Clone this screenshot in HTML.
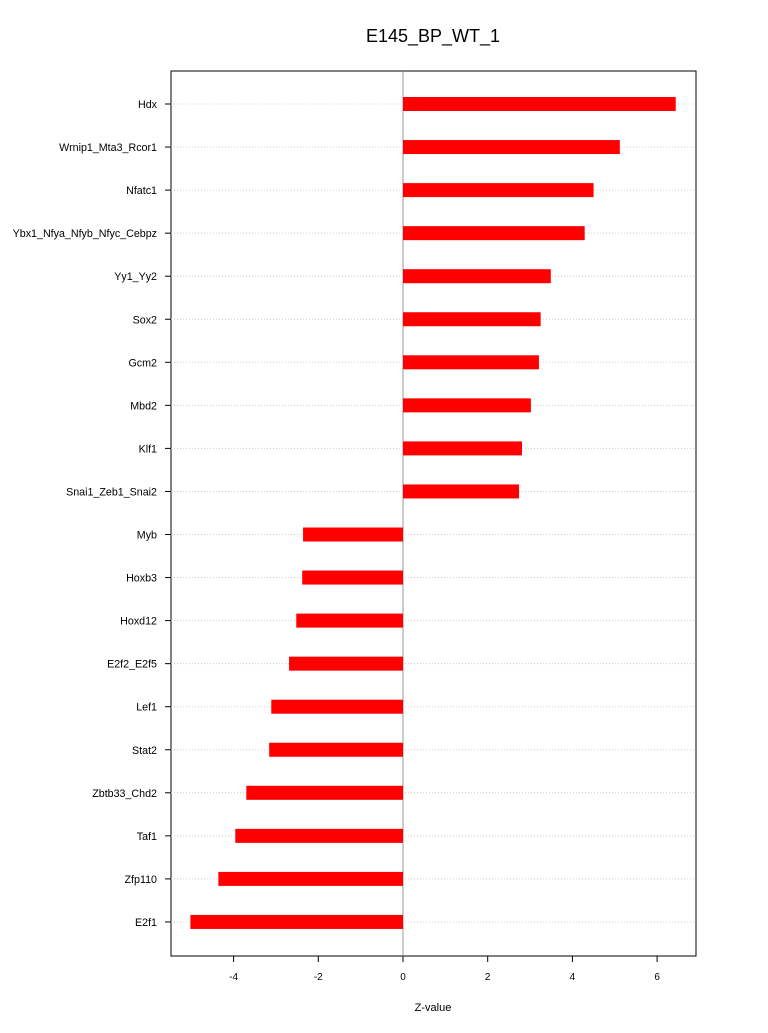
<!DOCTYPE html>
<html><head><meta charset="utf-8"><style>
body{margin:0;background:#fff;font-family:"Liberation Sans",sans-serif;}
svg text{font-family:"Liberation Sans",sans-serif;}
</style></head><body>
<svg id="chart" width="768" height="1028" xmlns="http://www.w3.org/2000/svg">
<text x="433" y="42" font-size="18" text-anchor="middle">E145_BP_WT_1</text>
<rect x="171" y="71" width="525" height="885" fill="none" stroke="#000" stroke-width="1"/>
<text x="433" y="1011" font-size="11" text-anchor="middle">Z-value</text>
<g id="grid"></g><g id="bars"></g><g id="labels"></g><g id="xaxis"></g>
</svg>
<script>
const categories=["Hdx","Wrnip1_Mta3_Rcor1","Nfatc1","Ybx1_Nfya_Nfyb_Nfyc_Cebpz","Yy1_Yy2","Sox2","Gcm2","Mbd2","Klf1","Snai1_Zeb1_Snai2","Myb","Hoxb3","Hoxd12","E2f2_E2f5","Lef1","Stat2","Zbtb33_Chd2","Taf1","Zfp110","E2f1"];
const values=[6.44,5.12,4.50,4.29,3.49,3.25,3.21,3.02,2.81,2.74,-2.36,-2.38,-2.52,-2.69,-3.11,-3.16,-3.70,-3.96,-4.36,-5.02];
const ticks=[-4,-2,0,2,4,6];
const NS="http://www.w3.org/2000/svg";
const xs=v=>403+v*42.35;
const ys=i=>104+i*43.05;
function mk(t,a,p){const e=document.createElementNS(NS,t);for(const k in a)e.setAttribute(k,a[k]);p.appendChild(e);return e;}
const g=document.getElementById('grid'),b=document.getElementById('bars'),l=document.getElementById('labels'),ax=document.getElementById('xaxis');
const zl=mk('line',{x1:xs(0),x2:xs(0),y1:71,y2:956,stroke:'#999','stroke-width':1},g);


categories.forEach((c,i)=>{
 const y=ys(i);
 const gl=mk('line',{x1:171,x2:696,y1:y,y2:y,stroke:'#ccc','stroke-dasharray':'1,2','stroke-width':1},g);
 
 
 const yt=mk('line',{x1:165,x2:171,y1:y,y2:y,stroke:'#000','stroke-width':1},g);
 
 
 const v=values[i];
 const r=mk('rect',{x:Math.min(xs(0),xs(v)),y:y-7,width:Math.abs(xs(v)-xs(0)),height:14,fill:'#ff0000'},b);
 
 
 const t=mk('text',{x:157,y:y+4,'font-size':10.7,'text-anchor':'end'},l);
 t.textContent=c;
 
 
});
ticks.forEach(v=>{
 const x=xs(v);
 const tl=mk('line',{x1:x,x2:x,y1:956,y2:962,stroke:'#000'},ax);
 
 
 const t=mk('text',{x:x,y:980,'font-size':10,'text-anchor':'middle'},ax);
 t.textContent=v;
 
 
});
</script>
</body></html>
